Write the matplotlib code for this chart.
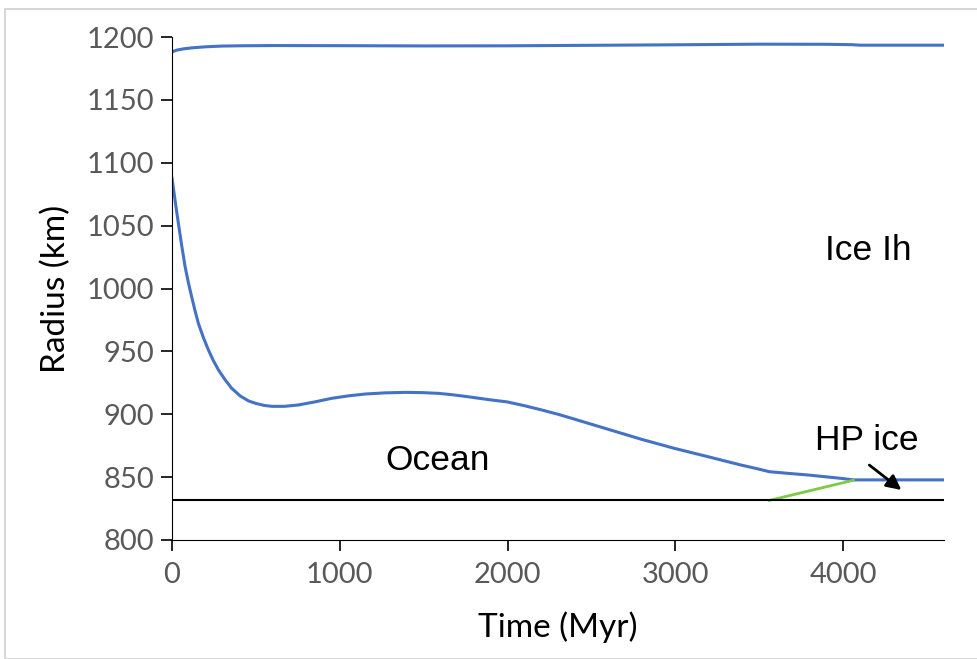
import numpy as np
import matplotlib
matplotlib.use('Agg')
import matplotlib.pyplot as plt
from matplotlib.patches import Rectangle

# surface radius (top curve)
t_top = [0, 30, 70, 120, 200, 300, 400, 600, 1000, 1500, 2000, 2500, 3000, 3500, 3900, 4050, 4100, 4600]
r_top = [1188.2, 1189.6, 1190.6, 1191.4, 1192.2, 1192.8, 1193.0, 1193.2, 1193.1, 1192.9, 1193.0, 1193.4,
         1193.8, 1194.3, 1194.2, 1193.9, 1193.5, 1193.5]

# ice Ih / ocean boundary
t_mid = [0, 20, 38, 58, 78, 97, 117, 137, 157, 187, 217, 247, 277, 316, 356, 406, 456, 500, 550, 595,
         670, 754, 850, 953, 1050, 1152, 1270, 1391, 1490, 1590, 1670, 1749, 1830, 1900, 1998, 2100,
         2197, 2300, 2396, 2595, 2794, 2993, 3192, 3391, 3480, 3560, 3680, 3789, 3988, 4060, 4300, 4600]
r_mid = [1087.6, 1068.5, 1051.8, 1034.0, 1017.4, 1005.0, 993.5, 982.5, 972.3, 961.0, 951.1, 942.5,
         935.2, 927.5, 920.6, 914.6, 910.6, 908.6, 907.0, 906.3, 906.3, 907.4, 909.8, 912.7, 914.6,
         916.1, 917.0, 917.4, 917.2, 916.6, 915.5, 914.2, 912.7, 911.4, 909.8, 906.8, 903.6, 900.0,
         896.2, 888.2, 880.2, 872.9, 866.3, 859.6, 856.9, 854.3, 852.9, 851.7, 849.0, 847.8, 847.8, 847.8]

# HP ice top
t_hp = [3560, 4060]
r_hp = [831.5, 847.5]

# core / ocean floor
t_core = [0, 4600]
r_core = [831.5, 831.5]

fig = plt.figure(figsize=(9.78, 6.59), dpi=100)
ax = fig.add_axes([172/978, 1 - 540/659, (944-172)/978, (540-37)/659])

fig.patches.append(Rectangle((5/978, 0), 1, 1 - 9/659, transform=fig.transFigure,
                             fill=False, edgecolor='#d0d0d0', linewidth=1.2))

blue = '#4472C4'
ax.plot(t_top, r_top, color=blue, lw=2.2)
ax.plot(t_mid, r_mid, color=blue, lw=2.2)
ax.plot(t_hp, r_hp, color='#7CCB45', lw=2.0)
ax.plot(t_core, r_core, color='black', lw=1.5)

ax.set_xlim(0, 4600)
ax.set_ylim(800, 1200)
ax.set_xticks([0, 1000, 2000, 3000, 4000])
ax.set_yticks(np.arange(800, 1201, 50))

tickfont = 'Lato'
for lab in ax.get_xticklabels() + ax.get_yticklabels():
    lab.set_fontfamily(tickfont)
    lab.set_fontsize(21)
    lab.set_color('#595959')

ax.spines['top'].set_visible(False)
ax.spines['right'].set_visible(False)
ax.spines['left'].set_color('black')
ax.spines['bottom'].set_color('black')
ax.tick_params(axis='y', direction='out', length=8, width=1.2, pad=5)
ax.tick_params(axis='x', direction='out', length=8, width=1.2, pad=8)

ax.set_xlabel('Time (Myr)', fontsize=24, fontfamily='Lato', labelpad=17)
ax.set_ylabel('Radius (km)', fontsize=24, fontfamily='Lato', labelpad=11)

ax.text(4149, 1030.6, 'Ice Ih', fontsize=25.5, fontfamily='Liberation Sans', ha='center', va='center')
ax.text(1580, 863, 'Ocean', fontsize=25.5, fontfamily='Liberation Sans', ha='center', va='center')
ax.text(4143, 879.5, 'HP ice', fontsize=25.5, fontfamily='Liberation Sans', ha='center', va='center')
ax.annotate('', xy=(4346, 839.8), xytext=(4155, 859.6),
            arrowprops=dict(arrowstyle='-|>', color='black', lw=2, mutation_scale=22,
                            shrinkA=0, shrinkB=0))

plt.savefig('out.png', dpi=100)
